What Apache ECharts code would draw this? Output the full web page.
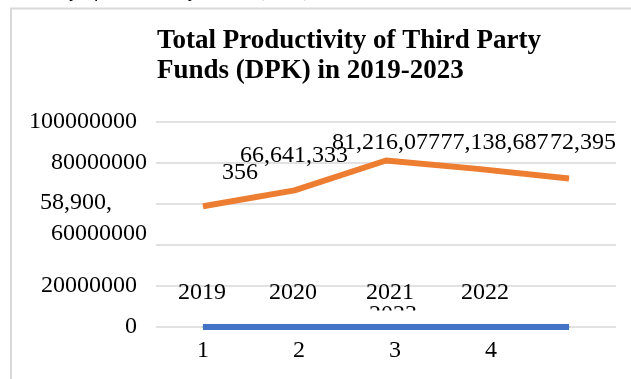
<!DOCTYPE html>
<html>
<head>
<meta charset="utf-8">
<script src="https://cdn.jsdelivr.net/npm/echarts@6/dist/echarts.min.js"></script>
<style>
  html, body { margin: 0; padding: 0; background: #ffffff; }
  #chart { width: 631px; height: 379px; }
</style>
</head>
<body>
<div id="chart"></div>
<script>
// ---- data ----
const years = ['2019', '2020', '2021', '2022', '2023'];
const pointNumbers = ['1', '2', '3', '4', '5'];
const dpkTotals = [58900356, 66641333, 81216077, 77138687, 72395000];
const yearValues = [2019, 2020, 2021, 2022, 2023];
const yTickValues = [0, 20000000, 40000000, 60000000, 80000000, 100000000];
const chartTitle = 'Total Productivity of Third Party\nFunds (DPK) in 2019-2023';
const captionText = 'Productivity of Third Party Funds (DPK) in 2019-2023';

// ---- layout / style ----
const SERIF = '"Liberation Serif", "Times New Roman", serif';
const GRID_LINE = '#d9d9d9';
const ORANGE = '#ED7D31';
const BLUE = '#4472C4';
const yMin = yTickValues[0];
const yMax = yTickValues[yTickValues.length - 1];
const yStep = yTickValues[1] - yTickValues[0];

function withCommas(v) {
  return String(v).replace(/\B(?=(\d{3})+(?!\d))/g, ',');
}

// where each DPK label sits relative to its point (left edge, vertical middle)
const dpkLabelOffsets = [[-163, -19], [-54.5, -34.4], [-54, -17.5], [-37, -25.9], [-19, -35.6]];
// where each year label sits relative to its point (centre)
const yearLabelOffsets = [[-1, -34], [-1.5, -34], [4, -34], [7.5, -34], [-176, -12]];

const labelText = { fontFamily: SERIF, fontSize: 24, color: '#000000' };

const dpkData = dpkTotals.map((v, i) => {
  const label = {
    show: true,
    position: 'inside',
    align: 'left',
    verticalAlign: 'middle',
    offset: dpkLabelOffsets[i],
    ...labelText
  };
  if (i === 0) {
    // first label wraps: tail of the number sits above, head below-left
    label.formatter = p => {
      const s = withCommas(p.value);
      const cut = s.lastIndexOf(',') + 1;
      return '{sp| }{t|' + s.slice(cut) + '}\n{t|' + s.slice(0, cut) + '}';
    };
    label.rich = {
      t: { ...labelText, lineHeight: 30 },
      sp: { width: 182, lineHeight: 30, fontSize: 24 }
    };
  } else {
    label.formatter = p => withCommas(p.value);
  }
  if (i === dpkTotals.length - 1) {
    label.width = 67;
    label.overflow = 'truncate';
    label.ellipsis = '';
  }
  return { value: v, label };
});

const yearData = yearValues.map((v, i) => ({
  value: v,
  label: {
    show: true,
    position: 'inside',
    align: 'center',
    verticalAlign: 'middle',
    offset: yearLabelOffsets[i],
    formatter: p => String(p.value),
    ...labelText
  }
}));

const hiddenAxis = {
  axisLine: { show: false },
  axisTick: { show: false },
  axisLabel: { show: false },
  splitLine: { show: false }
};

const chart = echarts.init(document.getElementById('chart'), null, { renderer: 'canvas' });

chart.setOption({
  animation: false,
  backgroundColor: '#ffffff',
  title: {
    text: chartTitle,
    left: 157,
    top: 26,
    padding: 0,
    textStyle: {
      fontFamily: SERIF,
      fontSize: 27,
      fontWeight: 'bold',
      color: '#000000',
      lineHeight: 30
    }
  },
  grid: [
    // gridlines and value labels
    { left: 156, right: 15, top: 122, bottom: 52 },
    // series plotting area
    { left: 203, right: 62, top: 122, bottom: 52 },
    // point-number labels along the bottom
    { left: 203, right: 44, top: 122, bottom: 52 }
  ],
  xAxis: [
    { gridIndex: 0, type: 'category', data: pointNumbers, ...hiddenAxis },
    { gridIndex: 1, type: 'category', data: years, boundaryGap: false, ...hiddenAxis },
    {
      gridIndex: 2, type: 'category', data: pointNumbers, boundaryGap: false,
      axisLine: { show: false },
      axisTick: { show: false },
      splitLine: { show: false },
      axisLabel: {
        show: true,
        margin: 12,
        interval: 0,
        ...labelText,
        formatter: v => (v === pointNumbers[pointNumbers.length - 1] ? '' : v)
      }
    }
  ],
  yAxis: [
    {
      gridIndex: 0, type: 'value', min: yMin, max: yMax, interval: yStep,
      axisLine: { show: false },
      axisTick: { show: false },
      splitLine: { show: true, lineStyle: { color: GRID_LINE, width: 1.5 } },
      axisLabel: {
        show: true,
        margin: 9,
        ...labelText,
        formatter: v => {
          if (v === 40000000) return '';
          if (v === 60000000) return '{down|' + v + '}';
          if (v === 80000000) return '{v|' + v + '}';
          return '{v|' + v + '}{sp| }';
        },
        rich: {
          v: { ...labelText, lineHeight: 24 },
          down: { ...labelText, lineHeight: 24, padding: [60, 0, 0, 0] },
          sp: { width: 10, fontSize: 12 }
        }
      }
    },
    { gridIndex: 1, type: 'value', min: yMin, max: yMax, interval: yStep, ...hiddenAxis },
    { gridIndex: 2, type: 'value', min: yMin, max: yMax, interval: yStep, ...hiddenAxis }
  ],
  series: [
    {
      name: 'Year',
      type: 'line',
      xAxisIndex: 1,
      yAxisIndex: 1,
      data: yearData,
      symbol: 'circle',
      symbolSize: 1,
      itemStyle: { color: BLUE },
      lineStyle: { color: BLUE, width: 6 },
      silent: true
    },
    {
      name: 'DPK',
      type: 'line',
      xAxisIndex: 1,
      yAxisIndex: 1,
      data: dpkData,
      symbol: 'circle',
      symbolSize: 1,
      itemStyle: { color: ORANGE },
      lineStyle: { color: ORANGE, width: 6 },
      silent: true
    }
  ],
  graphic: [
    // caption line of the surrounding page, cut by the top edge
    {
      type: 'text', left: -18, top: -19, z: 50,
      style: { text: captionText, font: 'italic 20px ' + SERIF, fill: '#000000' }
    },
    // chart frame
    {
      type: 'polyline', z: 50,
      shape: { points: [[11, 379], [11, 8.5], [631, 8.5]] },
      style: { stroke: '#d9d9d9', lineWidth: 2, fill: null }
    },
    // the last year label wraps below its box and is cut off
    {
      type: 'rect', z: 100,
      shape: { x: 355, y: 310.5, width: 80, height: 12.5 },
      style: { fill: '#ffffff' }
    }
  ]
});
</script>
</body>
</html>
